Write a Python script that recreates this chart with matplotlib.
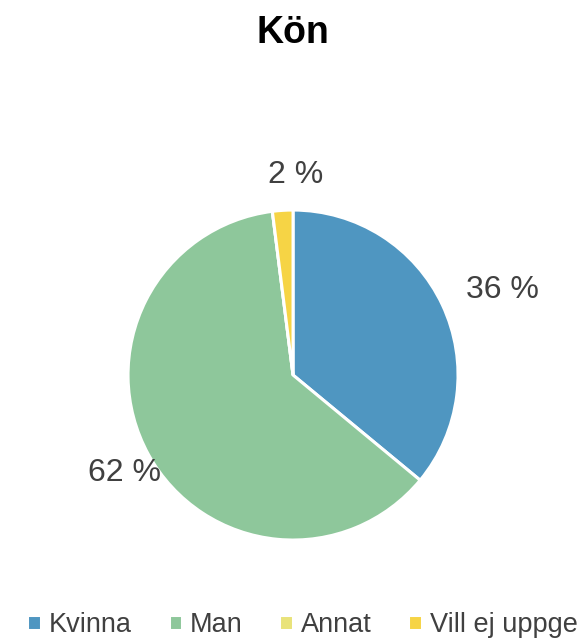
import matplotlib.pyplot as plt
import numpy as np

# data
categories = ["Kvinna", "Man", "Annat", "Vill ej uppge"]
values = [36, 62, 0, 2]
colors = ["#4f96c1", "#8ec79b", "#e9e37a", "#f6d445"]

plt.rcParams["font.family"] = ["Liberation Sans", "DejaVu Sans"]

fig = plt.figure(figsize=(5.82, 6.4), dpi=100)
ax = fig.add_axes([0.22, 0.156, 0.567, 0.516])

wedges, _ = ax.pie(values, colors=colors, startangle=90, counterclock=False,
                   wedgeprops=dict(edgecolor="white", linewidth=2.2))
ax.set_aspect("equal")
ax.set_xlim(-1, 1); ax.set_ylim(-1, 1)

# procentetiketter utanför tårtan (vinkeljustering, radie)
place = {0: (-3.2, 1.37), 1: (1.5, 1.18), 3: (-4.2, 1.21)}
for i, w in enumerate(wedges):
    if values[i] == 0:
        continue
    da, r = place[i]
    a = np.deg2rad((w.theta1 + w.theta2) / 2 + da)
    ax.text(r * np.cos(a), r * np.sin(a), f"{values[i]} %", ha="center", va="center",
            fontsize=23, color="#404040", clip_on=False)

fig.text(0.503, 0.948, "Kön", ha="center", va="center", fontsize=27,
         fontweight="bold")

fig.legend(wedges, categories, loc="lower left", bbox_to_anchor=(0.005, -0.035),
           ncol=4, frameon=False, fontsize=19.5, handlelength=0.5, handleheight=0.5,
           handletextpad=0.3, columnspacing=1.35, labelcolor="#404040")

fig.savefig("out.png", dpi=100)
